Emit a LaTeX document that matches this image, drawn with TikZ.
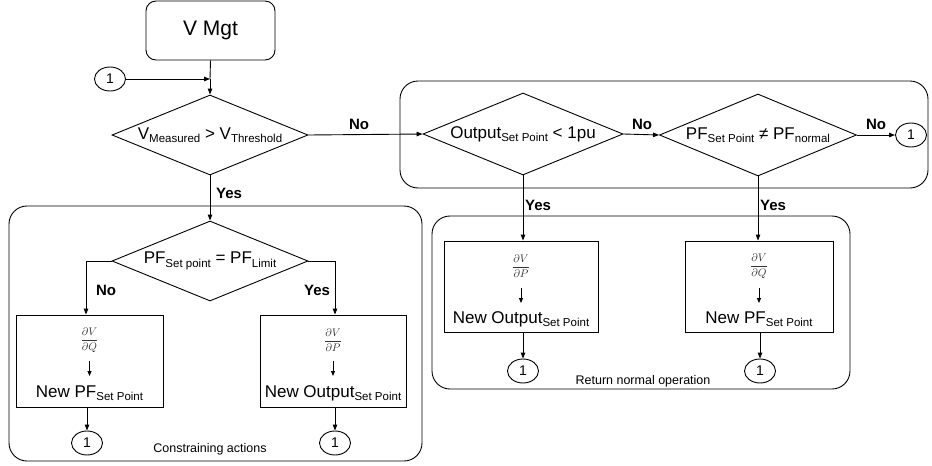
\documentclass[tikz,border=0pt]{standalone}
\usepackage{fontspec}
\setmainfont{Liberation Sans}
\usetikzlibrary{shapes.geometric,arrows.meta,calc}
\newcommand{\sbs}[1]{\raisebox{-3.5pt}{\fontsize{11.5}{12}\selectfont #1}}
\newcommand{\mainsz}{\fontsize{17}{20}\selectfont}
\begin{document}
\begin{tikzpicture}[x=1pt,y=-1pt,line width=0.9pt,
  dia/.style={diamond, draw, inner sep=0pt, aspect=2.45, minimum width=196pt, minimum height=80pt, font=\mainsz},
  actbox/.style={draw, rectangle, minimum height=91pt, inner sep=0pt},
  conn/.style={ellipse, draw, minimum width=31pt, minimum height=24pt, inner sep=0pt, font=\fontsize{14}{14}\selectfont},
  grp/.style={draw, rectangle, rounded corners=18pt, inner sep=0pt},
  lbl/.style={font=\bfseries\fontsize{15}{15}\selectfont, inner sep=0pt},
  grpcaption/.style={font=\fontsize{12.5}{13}\selectfont, inner sep=0pt},
  frc/.style={font=\fontsize{11}{13}\selectfont, text=black!80, inner sep=0pt},
  btxt/.style={font=\mainsz, inner sep=0pt},
  arr/.style={-{Triangle[length=6pt,width=4.5pt]}},
  sarr/.style={-{Triangle[length=5pt,width=4pt]}, line width=0.8pt}]
\useasboundingbox (0,0) rectangle (932,466);

% group boxes
\node[grp, minimum width=528pt, minimum height=107pt] (gT) at (664,134.5) {};
\node[grp, minimum width=418pt, minimum height=173pt] (gR) at (641,302.5) {};
\node[grp, minimum width=413pt, minimum height=255pt] (gL) at (215.5,333.5) {};

% start
\node[draw, rectangle, rounded corners=10pt, minimum width=129pt, minimum height=59pt, font=\fontsize{21}{24}\selectfont] (vm) at (210.5,30.5) {V Mgt};
\node[conn] (c0) at (110,79) {1};
\coordinate (j0) at (210,79);

% decisions
\node[dia] (d1) at (210,135) {V\sbs{Measured} > V\sbs{Threshold}};
\node[dia, minimum width=200pt, minimum height=82pt] (d2) at (523,134) {Output\sbs{Set Point} < 1pu};
\node[dia, minimum width=197pt, minimum height=82pt] (d3) at (758,135) {PF\sbs{Set Point} ≠ PF\sbs{normal}};
\node[conn] (cT) at (911,135) {1};
\node[dia] (d4) at (210,261) {PF\sbs{Set point} = PF\sbs{Limit}};

\draw (vm.south) -- (j0);
\draw[arr] (j0) -- (d1.north);
\draw[arr] (c0.east) -- (j0);
\draw[arr] (d1.east) -- (d2.west);
\draw[arr] (d2.east) -- (d3.west);
\draw[arr] (d3.east) -- (cT.west);
\draw[arr] (d1.south) -- (d4.north);

\node[lbl] (n1) at (359,124) {No};
\node[lbl] (n2) at (642,124) {No};
\node[lbl] (n3) at (876,124) {No};
\node[lbl] (y1) at (229,193) {Yes};

% left group
\node[actbox, minimum width=147pt, minimum height=92pt] (bL1) at (89.5,361) {};
\node[actbox, minimum width=146pt, minimum height=92pt] (bL2) at (333,361) {};
\coordinate (kL1) at (86,261);
\coordinate (kL2) at (335,261);
\draw[arr] (d4.west) -- (kL1) -- (kL1 |- bL1.north);
\draw[arr] (d4.east) -- (kL2) -- (kL2 |- bL2.north);
\node[lbl] (n4) at (106,290) {No};
\node[lbl] (y4) at (317,290) {Yes};

\node[frc] (fL1) at (89.5,340) {$\displaystyle\frac{\partial V}{\partial Q}$};
\coordinate (aL1a) at (89.5,361);
\coordinate (aL1b) at (89.5,376);
\draw[sarr] (aL1a) -- (aL1b);
\node[btxt] (tL1) at (89.5,393) {New PF\sbs{Set Point}};

\node[frc] (fL2) at (333,340) {$\displaystyle\frac{\partial V}{\partial P}$};
\coordinate (aL2a) at (333,361);
\coordinate (aL2b) at (333,376);
\draw[sarr] (aL2a) -- (aL2b);
\node[btxt] (tL2) at (333,393) {New Output\sbs{Set Point}};

\node[conn] (cL1) at (87,443) {1};
\node[conn] (cL2) at (335,443) {1};
\draw[arr] (cL1 |- bL1.south) -- (cL1.north);
\draw[arr] (cL2 |- bL2.south) -- (cL2.north);
\node[grpcaption] (capL) at (210,449) {Constraining actions};

% right group
\node[actbox, minimum width=154pt] (bR1) at (521,286.5) {};
\node[actbox, minimum width=148pt] (bR2) at (759,286.5) {};
\draw[arr] (d2.south) -- (d2.south |- bR1.north);
\draw[arr] (d3.south) -- (d3.south |- bR2.north);
\node[lbl] (y2) at (538,205) {Yes};
\node[lbl] (y3) at (773,205) {Yes};

\node[frc] (fR1) at (521,266) {$\displaystyle\frac{\partial V}{\partial P}$};
\coordinate (aR1a) at (521,288);
\coordinate (aR1b) at (521,303);
\draw[sarr] (aR1a) -- (aR1b);
\node[btxt] (tR1) at (521,319) {New Output\sbs{Set Point}};

\node[frc] (fR2) at (759,266) {$\displaystyle\frac{\partial V}{\partial Q}$};
\coordinate (aR2a) at (759,288);
\coordinate (aR2b) at (759,303);
\draw[sarr] (aR2a) -- (aR2b);
\node[btxt] (tR2) at (759,319) {New PF\sbs{Set Point}};

\node[conn] (cR1) at (523,371) {1};
\node[conn] (cR2) at (760,371) {1};
\draw[arr] (cR1 |- bR1.south) -- (cR1.north);
\draw[arr] (cR2 |- bR2.south) -- (cR2.north);
\node[grpcaption] (capR) at (643,381) {Return normal operation};
\end{tikzpicture}
\end{document}
